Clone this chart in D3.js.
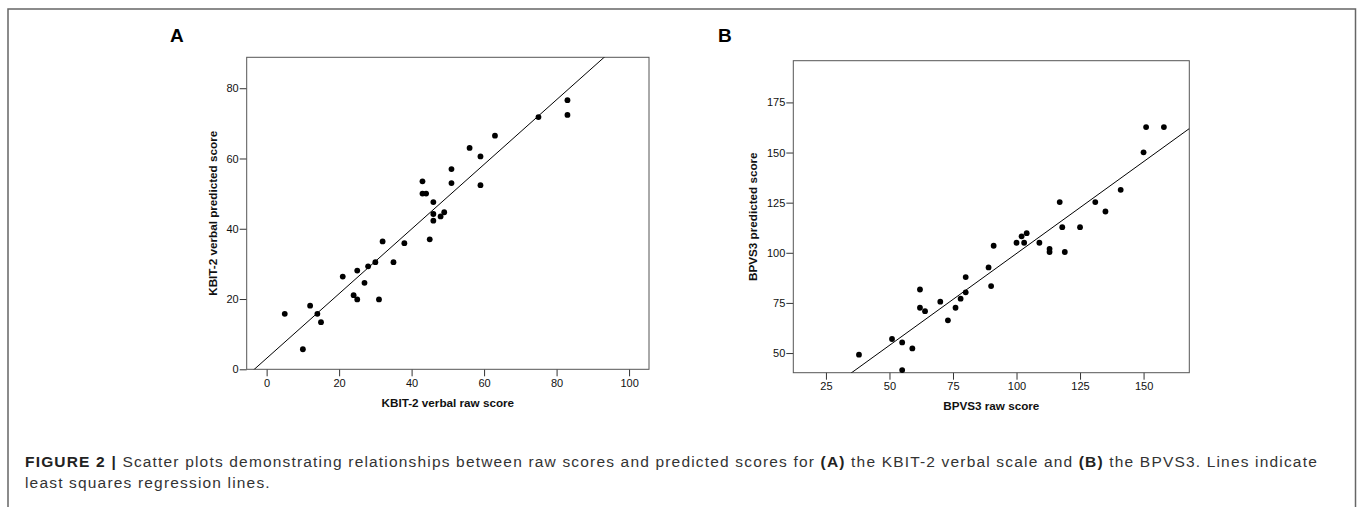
<!DOCTYPE html>
<html lang="en">
<head>
    <meta charset="UTF-8">
    <title>Figure 2 scatter plots</title>
    <script src="https://d3js.org/d3.v7.min.js"></script>
    <style>
        body { margin: 0; background: #fff; }
        svg { display: block; font-family: "Liberation Sans", Arial, Helvetica, sans-serif; }
        .frame { fill: none; stroke: #555; stroke-width: 1; }
        .tick line { stroke: #333; }
        .tick text { fill: #111; font-size: 11px; }
        .axis-title { font-size: 11.7px; font-weight: bold; fill: #111; }
        .panel-letter { font-size: 19px; font-weight: bold; fill: #000; }
        .dot { fill: #000; }
        .fit { stroke: #000; stroke-width: 1; fill: none; }
        .caption { font-size: 15.5px; fill: #333; }
    </style>
</head>
<body>
<svg width="1357" height="507"></svg>
<script>
    // Panel A: KBIT-2 verbal
    const kbitRaw = [5, 10, 12, 14, 15, 21, 24, 25, 25, 27, 28, 30, 31, 32, 35, 38,
        43, 43, 44, 45, 46, 46, 46, 48, 49, 51, 51, 56, 59, 59, 63, 75, 83, 83];
    const kbitPred = [15.8, 5.7, 18.1, 15.8, 13.4, 26.4, 21.1, 28.1, 19.9, 24.6, 29.3, 30.5, 19.9, 36.4, 30.5, 35.9,
        53.5, 50.0, 50.0, 37.0, 47.6, 44.2, 42.3, 43.5, 44.7, 57.0, 53.0, 63.0, 60.6, 52.4, 66.5, 71.8, 76.6, 72.4];
    const kbitFit = [3.13, 0.92];          // intercept, slope
    const kbitXTicks = [0, 20, 40, 60, 80, 100];
    const kbitYTicks = [0, 20, 40, 60, 80];

    // Panel B: BPVS3
    const bpvsRaw = [38, 51, 55, 55, 59, 62, 62, 64, 70, 73, 76, 78, 80, 80, 89, 90, 91,
        100, 102, 103, 104, 109, 113, 113, 117, 118, 119, 125, 131, 135, 141, 150, 151, 158];
    const bpvsPred = [49.2, 57.0, 55.3, 41.5, 52.3, 81.7, 72.6, 70.9, 75.6, 66.3, 72.6, 77.1, 87.9, 80.3, 92.7, 83.4, 103.5,
        105.0, 108.2, 105.0, 109.8, 105.0, 102.0, 100.4, 125.3, 112.8, 100.4, 112.8, 125.3, 120.6, 131.4, 150.1, 162.7, 162.7];
    const bpvsFit = [8.05, 0.916];
    const bpvsXTicks = [25, 50, 75, 100, 125, 150];
    const bpvsYTicks = [50, 75, 100, 125, 150, 175];

    const svg = d3.select("svg");

    // outer figure border
    svg.append("rect")
        .attr("x", 8).attr("y", 9)
        .attr("width", 1347.5).attr("height", 600)
        .attr("fill", "none").attr("stroke", "#666").attr("stroke-width", 1.5);

    function drawPanel(cfg) {
        const x = d3.scaleLinear().domain(cfg.xDomain).range([cfg.left, cfg.right]);
        const y = d3.scaleLinear().domain(cfg.yDomain).range([cfg.bottom, cfg.top]);
        const g = svg.append("g");

        const clipId = "clip-" + cfg.letter;
        g.append("clipPath").attr("id", clipId)
            .append("rect")
            .attr("x", cfg.left).attr("y", cfg.top)
            .attr("width", cfg.right - cfg.left).attr("height", cfg.bottom - cfg.top);

        // axes
        g.append("g")
            .attr("transform", `translate(0,${cfg.bottom})`)
            .call(d3.axisBottom(x).tickValues(cfg.xTicks).tickSize(7).tickSizeOuter(0).tickPadding(3))
            .call(a => a.select(".domain").remove());
        g.append("g")
            .attr("transform", `translate(${cfg.left},0)`)
            .call(d3.axisLeft(y).tickValues(cfg.yTicks).tickSize(7).tickSizeOuter(0).tickPadding(1))
            .call(a => a.select(".domain").remove());

        g.append("rect").attr("class", "frame")
            .attr("x", cfg.left).attr("y", cfg.top)
            .attr("width", cfg.right - cfg.left).attr("height", cfg.bottom - cfg.top);

        // regression line
        const [b0, b1] = cfg.fit;
        const x0 = cfg.xDomain[0], x1 = cfg.xDomain[1];
        g.append("line").attr("class", "fit")
            .attr("clip-path", `url(#${clipId})`)
            .attr("x1", x(x0)).attr("y1", y(b0 + b1 * x0))
            .attr("x2", x(x1)).attr("y2", y(b0 + b1 * x1));

        // points
        g.append("g").selectAll("circle")
            .data(d3.zip(cfg.xs, cfg.ys))
            .join("circle")
            .attr("class", "dot")
            .attr("cx", d => x(d[0]))
            .attr("cy", d => y(d[1]))
            .attr("r", 2.9);

        // titles
        g.append("text").attr("class", "axis-title")
            .attr("x", (cfg.left + cfg.right) / 2)
            .attr("y", cfg.bottom + 37.5)
            .attr("text-anchor", "middle")
            .text(cfg.xTitle);
        g.append("text").attr("class", "axis-title")
            .attr("transform", `translate(${cfg.yTitleX},${(cfg.top + cfg.bottom) / 2}) rotate(-90)`)
            .attr("text-anchor", "middle")
            .text(cfg.yTitle);

        g.append("text").attr("class", "panel-letter")
            .attr("x", cfg.letterX).attr("y", 42)
            .text(cfg.letter);
    }

    drawPanel({
        letter: "A", letterX: 170,
        xs: kbitRaw, ys: kbitPred, fit: kbitFit,
        xDomain: [-5.5, 105.5], yDomain: [0, 88.8],
        xTicks: kbitXTicks, yTicks: kbitYTicks,
        left: 246.7, right: 649, top: 57.3, bottom: 369.3,
        xTitle: "KBIT-2 verbal raw score",
        yTitle: "KBIT-2 verbal predicted score", yTitleX: 217
    });

    drawPanel({
        letter: "B", letterX: 718,
        xs: bpvsRaw, ys: bpvsPred, fit: bpvsFit,
        xDomain: [12.15, 168], yDomain: [40.2, 195.8],
        xTicks: bpvsXTicks, yTicks: bpvsYTicks,
        left: 793.3, right: 1189.3, top: 60.7, bottom: 372.7,
        xTitle: "BPVS3 raw score",
        yTitle: "BPVS3 predicted score", yTitleX: 756.5
    });

    // caption
    const cap1 = svg.append("text").attr("class", "caption").attr("x", 25).attr("y", 466.5);
    cap1.append("tspan").attr("font-weight", "bold").attr("fill", "#222").text("FIGURE 2 | ");
    cap1.append("tspan").text("Scatter plots demonstrating relationships between raw scores and predicted scores for ");
    cap1.append("tspan").attr("font-weight", "bold").attr("fill", "#222").text("(A)");
    cap1.append("tspan").text(" the KBIT-2 verbal scale and ");
    cap1.append("tspan").attr("font-weight", "bold").attr("fill", "#222").text("(B)");
    cap1.append("tspan").text(" the BPVS3. Lines indicate");
    const cap2 = svg.append("text").attr("class", "caption").attr("x", 25).attr("y", 487.5)
        .text("least squares regression lines.");

    // the original typeface is wider; spread letters so line 1 ends where it does in the figure
    const natural = cap1.node().getComputedTextLength();
    const nChars = cap1.text().length;
    const spacing = (1293 - natural) / nChars;
    cap1.attr("letter-spacing", spacing);
    cap2.attr("letter-spacing", spacing);
</script>
</body>
</html>
